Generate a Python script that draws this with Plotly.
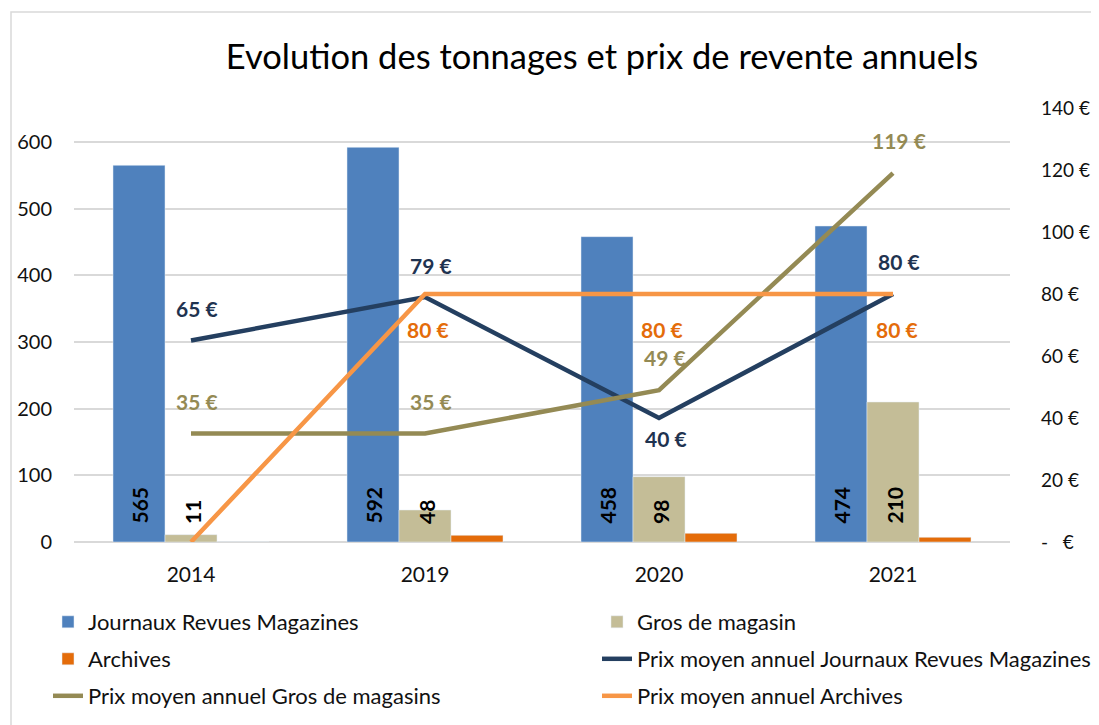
import plotly.graph_objects as go

# ---------------- data ----------------
years = ["2014", "2019", "2020", "2021"]
tonnes_journaux = [565, 592, 458, 474]
tonnes_gros = [11, 48, 98, 210]
tonnes_archives = [0, 10, 13, 7]
prix_journaux = [65, 79, 40, 80]
prix_gros = [35, 35, 49, 119]
prix_archives = [0, 80, 80, 80]
right_tick_vals = [0, 20, 40, 60, 80, 100, 120, 140]
right_tick_text = ["-   €", "20 €", "40 €", "60 €", "80 €", "100 €", "120 €", "140 €"]

# ---------------- styles ----------------
FONT = "Lato"
C_JRM_BAR = "#4F81BD"
C_GROS_BAR = "#C4BD97"
C_ARCH_BAR = "#E46C0A"
C_JRM_LINE = "#243F60"
C_GROS_LINE = "#948A54"
C_ARCH_LINE = "#F79646"
C_JRM_TXT = "#1F3350"
C_GROS_TXT = "#948A54"
C_ARCH_TXT = "#E46C0A"
GRID = "#D9D9D9"
TXT = "#111111"

# page offset (html body margin)
OFF = 8
W, H = 1099 - OFF, 725 - OFF
PL, PR, PT, PB = 74 - OFF, 1010 - OFF, 108 - OFF, 542 - OFF  # plot area in figure pixels
PW, PH = PR - PL, PB - PT

# label offsets (pixels) relative to the point: (dx, dy) dy>0 = above
off_jrm = [(6, 32), (6, 32), (7, -20), (6, 33)]
off_gros = [(6, 32), (6, 32), (6, 33), (6, 33)]
off_arch = [None, (3, -35), (3, -35), (4, -35)]

idx = list(range(len(years)))

fig = go.Figure()

fig.add_trace(go.Bar(x=years, y=tonnes_journaux, name="Journaux Revues Magazines",
                     marker=dict(color=C_JRM_BAR), legend="legend"))
fig.add_trace(go.Bar(x=years, y=tonnes_gros, name="Gros de magasin",
                     marker=dict(color=C_GROS_BAR), legend="legend2"))
fig.add_trace(go.Bar(x=years, y=tonnes_archives, name="Archives",
                     marker=dict(color=C_ARCH_BAR), legend="legend3"))

fig.add_trace(go.Scatter(x=years, y=prix_journaux, name="Prix moyen annuel Journaux Revues Magazines",
                         mode="lines", line=dict(color=C_JRM_LINE, width=4.5), yaxis="y2", legend="legend4"))
fig.add_trace(go.Scatter(x=years, y=prix_gros, name="Prix moyen annuel Gros de magasins",
                         mode="lines", line=dict(color=C_GROS_LINE, width=4.5), yaxis="y2", legend="legend5"))
fig.add_trace(go.Scatter(x=years, y=prix_archives, name="Prix moyen annuel Archives",
                         mode="lines", line=dict(color=C_ARCH_LINE, width=4.5), yaxis="y2", legend="legend6"))

annotations = []
# bar labels (rotated, near the base)
for vals, dx in ((tonnes_journaux, -52), (tonnes_gros, 1)):
    for i, v in zip(idx, vals):
        annotations.append(dict(x=i, y=0, xref="x", yref="y", text=str(v), textangle=-90,
                                showarrow=False, xanchor="center", yanchor="bottom",
                                xshift=dx, yshift=16,
                                font=dict(family=FONT, size=21, color="#000000", weight="bold")))
# line labels
for vals, offs, col in ((prix_journaux, off_jrm, C_JRM_TXT),
                        (prix_gros, off_gros, C_GROS_TXT),
                        (prix_archives, off_arch, C_ARCH_TXT)):
    for i, v, o in zip(idx, vals, offs):
        if o is None:
            continue
        annotations.append(dict(x=i, y=v, xref="x", yref="y2", text=f"{v} €",
                                showarrow=False, xanchor="center", yanchor="middle",
                                xshift=o[0], yshift=o[1],
                                font=dict(family=FONT, size=21, color=col, weight="bold")))

def leg(px_text_x, py_center):
    return dict(orientation="h", xanchor="left", yanchor="middle",
                x=(px_text_x - OFF - 40 - PL) / PW, y=(PB - (py_center - OFF)) / PH,
                font=dict(family=FONT, size=22, color=TXT),
                bgcolor="rgba(0,0,0,0)")

fig.update_layout(
    width=W, height=H,
    showlegend=True,
    margin=dict(l=PL, r=W - PR, t=PT, b=H - PB, autoexpand=False),
    paper_bgcolor="white", plot_bgcolor="white",
    font=dict(family=FONT, color=TXT),
    title=dict(text="Evolution des tonnages et prix de revente annuels",
               font=dict(family=FONT, size=34.5, color="#000000"),
               x=(602 - OFF) / W, xanchor="center", xref="container",
               y=1 - (57 - OFF) / H, yanchor="middle", yref="container"),
    barmode="group", bargap=1 / 3, bargroupgap=0,
    xaxis=dict(type="category", range=[-0.5, len(years) - 0.5], autorange=False,
               showgrid=False, showline=False, ticks="",
               tickfont=dict(family=FONT, size=21, color=TXT), ticklabelstandoff=18),
    yaxis=dict(range=[0, 651], dtick=100, showgrid=True, gridcolor=GRID, gridwidth=1.5,
               zeroline=True, zerolinecolor=GRID, zerolinewidth=1.5,
               tickfont=dict(family=FONT, size=20, color=TXT), ticklabelstandoff=21,
               showline=False, ticks=""),
    yaxis2=dict(range=[0, 140], overlaying="y", side="right", showgrid=False, zeroline=False,
                tickvals=right_tick_vals, ticktext=right_tick_text,
                tickfont=dict(family=FONT, size=19, color=TXT), ticklabelstandoff=30,
                showline=False, ticks=""),
    legend=leg(88, 622),
    legend2=leg(637, 622),
    legend3=leg(88, 659),
    legend4=leg(637, 659),
    legend5=leg(88, 696),
    legend6=leg(637, 696),
    annotations=annotations,
    shapes=[dict(type="rect", xref="paper", yref="paper",
                 x0=(11 - OFF - PL) / PW, x1=(1098 - OFF - PL) / PW,
                 y0=(PB - (745 - OFF)) / PH, y1=(PB - (12 - OFF)) / PH,
                 line=dict(color=GRID, width=1.5), fillcolor="rgba(0,0,0,0)", layer="below")],
)

fig.write_html("out.html")
